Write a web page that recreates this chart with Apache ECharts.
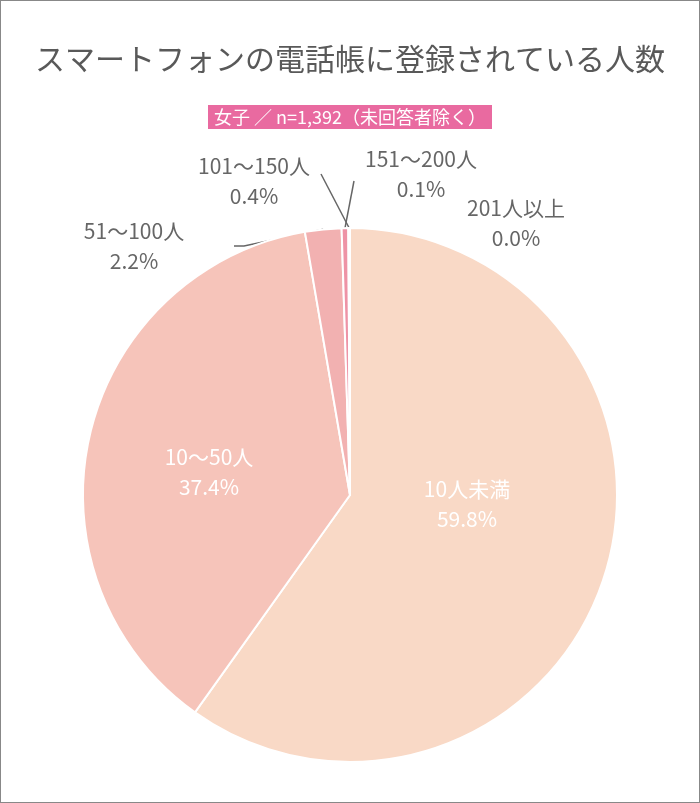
<!DOCTYPE html><html><head><meta charset="utf-8"><script src="https://cdn.jsdelivr.net/npm/echarts@6/dist/echarts.min.js"></script>
<style>html,body{margin:0;padding:0;background:#fff}#c{width:698px;height:801px;border:1px solid #888}</style></head><body><div id="c"></div><script>
const categories=['10人未満','10～50人','51～100人','101～150人','151～200人','201人以上'];
const values=[59.8,37.4,2.2,0.4,0.1,0.0];
const colors=['#f9d9c6','#f6c4ba','#f2b1b1','#ee93a6','#e8678f','#e05a85'];
const labelPos=[[466,503,'#fff'],[208,471,'#fff'],[133,245,'#666'],[253,180,'#666'],[420,173,'#666'],[515,222,'#666']];
const chart=echarts.init(document.getElementById('c'));
chart.setOption({
 animation:false,
 title:[{text:'スマートフォンの電話帳に登録されている人数',left:'center',top:38,textStyle:{fontFamily:'Noto Sans CJK JP',fontSize:30,fontWeight:'normal',color:'#595959'}},
 {text:'女子 ／ n=1,392（未回答者除く）',left:'center',top:104,backgroundColor:'#e96aa0',padding:[3,6,3,6],textStyle:{fontFamily:'Noto Sans CJK JP',fontSize:18,fontWeight:'normal',color:'#fff'}}],
 series:[{type:'pie',center:[349,494],radius:[0,267],startAngle:90,clockwise:true,
  itemStyle:{borderColor:'#fff',borderWidth:2},
  data:categories.map((c,i)=>({name:c,value:values[i],itemStyle:{color:colors[i]},
    label:{color:labelPos[i][2]},labelLine:{show:i>=2&&i<=4}})),
  label:{show:true,position:'outside',fontFamily:'Noto Sans CJK JP',fontSize:21,lineHeight:30,overflow:'none',width:200,
    formatter:p=>p.name+'\n'+values[p.dataIndex].toFixed(1)+'%'},
  labelLine:{lineStyle:{color:'#666',width:1.5},length:10,length2:10},
  labelLayout:p=>({x:labelPos[p.dataIndex][0],y:labelPos[p.dataIndex][1],align:'center',verticalAlign:'middle'})
 }]
});
</script></body></html>
